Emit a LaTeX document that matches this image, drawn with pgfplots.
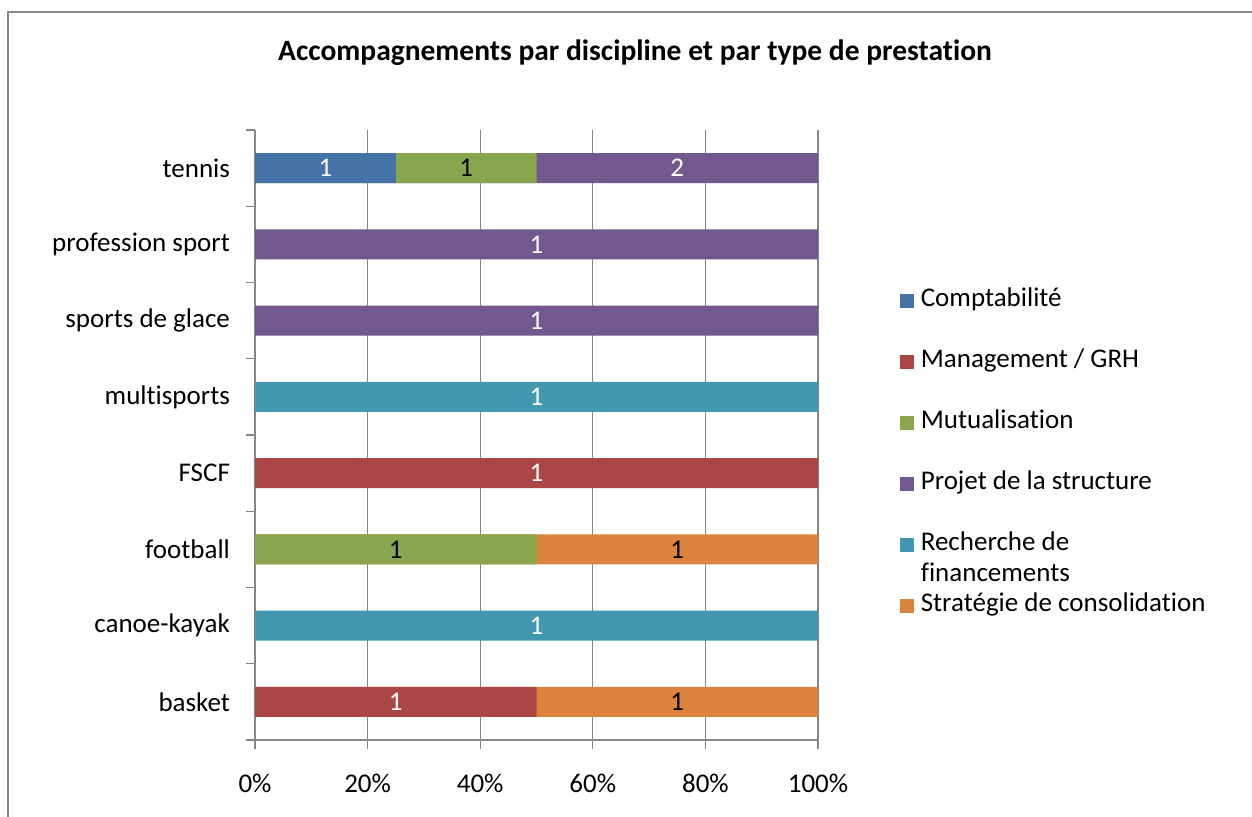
\documentclass[border=0pt]{standalone}
\usepackage{fontspec}
\setmainfont{Carlito}[Ligatures={NoCommon}]
\usepackage{pgfplots}
\pgfplotsset{compat=1.18}
\definecolor{cA}{HTML}{4572A7}
\definecolor{cB}{HTML}{AA4643}
\definecolor{cC}{HTML}{89A54E}
\definecolor{cD}{HTML}{71588F}
\definecolor{cE}{HTML}{4198AF}
\definecolor{cF}{HTML}{DB843D}
\definecolor{gridc}{HTML}{868686}
\begin{document}
\begin{tikzpicture}
\useasboundingbox (0,0) rectangle (626pt,408pt);
\draw[color=gridc, line width=0.6pt] (4pt,-2pt) -- (4pt,402pt) -- (630pt,402pt);
\node[font=\fontsize{14.75}{17}\selectfont\bfseries] at (317.5pt,381.5pt) {Accompagnements par discipline et par type de prestation};
\begin{axis}[
  at={(127.5pt,38pt)}, anchor=south west,
  scale only axis, width=281.5pt, height=305pt,
  xmin=0, xmax=100, ymin=0.5, ymax=8.5,
  axis x line=bottom, axis y line=left,
  axis line style={-, draw=gridc, line width=0.6pt},
  xtick={0,20,...,100},
  xticklabels={0\%,20\%,40\%,60\%,80\%,100\%},
  xmajorgrids, grid style={draw=gridc, line width=0.6pt},
  ytick={0.5,1.5,...,8.5}, yticklabels={},
  extra y ticks={1,...,8},
  extra y tick labels={basket,canoe-kayak,football,FSCF,multisports,sports de glace,profession sport,tennis},
  extra y tick style={major tick length=0pt, yticklabel style={xshift=-9pt}},
  tick align=outside, major tick length=4.5pt,
  tick style={draw=gridc, line width=0.6pt},
  tick label style={font=\fontsize{13.5}{15}\selectfont},
  xticklabel style={yshift=-9pt},
  xbar, bar width=15pt, bar shift=0pt,
  legend image code/.code={\fill[#1] (0pt,-3.5pt) rectangle (7pt,3.5pt);},
  legend style={draw=none, at={(1.135,0.470)}, anchor=west, font=\fontsize{13.5}{15}\selectfont,
    cells={anchor=west}, row sep=14.5pt, nodes={text height=9pt, text depth=3pt},
    /tikz/every odd column/.append style={column sep=1.2pt}},
]
\addlegendimage{fill=cA, draw=none}\addlegendentry{Comptabilité}
\addlegendimage{fill=cB, draw=none}\addlegendentry{Management / GRH}
\addlegendimage{fill=cC, draw=none}\addlegendentry{Mutualisation}
\addlegendimage{fill=cD, draw=none}\addlegendentry{Projet de la structure}
\addlegendimage{fill=cE, draw=none}\addlegendentry{\smash{\begin{tabular}[t]{@{}l@{}}Recherche de\\[0.5pt]financements\end{tabular}}}
\addlegendimage{fill=cF, draw=none}\addlegendentry{Stratégie de consolidation}
% bars drawn as cumulative ends, latest series first
\addplot[fill=cF, draw=none, forget plot] coordinates {(100,1) (100,3)};
\addplot[fill=cE, draw=none, forget plot] coordinates {(100,2) (100,5)};
\addplot[fill=cD, draw=none, forget plot] coordinates {(100,6) (100,7) (100,8)};
\addplot[fill=cC, draw=none, forget plot] coordinates {(50,3) (50,8)};
\addplot[fill=cB, draw=none, forget plot] coordinates {(50,1) (100,4)};
\addplot[fill=cA, draw=none, forget plot] coordinates {(25,8)};
% value labels
\addplot[draw=none, fill=none, forget plot, nodes near coords, point meta=explicit symbolic,
  every node near coord/.style={anchor=center, text=white, font=\fontsize{13.5}{15}\selectfont}]
  coordinates {(12.5,8) [1] (75,8) [2] (50,7) [1] (50,6) [1] (50,5) [1] (50,4) [1] (50,2) [1] (25,1) [1]};
\addplot[draw=none, fill=none, forget plot, nodes near coords, point meta=explicit symbolic,
  every node near coord/.style={anchor=center, text=black, font=\fontsize{13.5}{15}\selectfont}]
  coordinates {(37.5,8) [1] (25,3) [1] (75,3) [1] (75,1) [1]};
\end{axis}
\end{tikzpicture}
\end{document}
